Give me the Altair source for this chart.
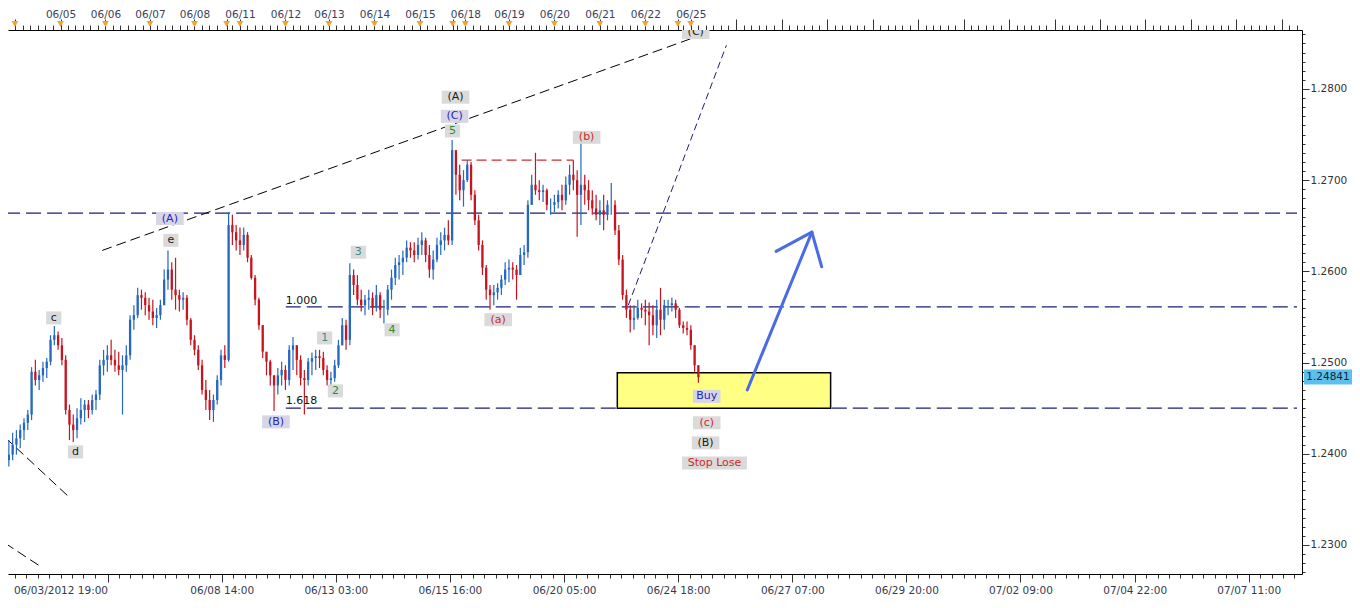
import altair as alt
import pandas as pd

# ---------------- price bars (2-hour steps, hour index from chart start) ----------------
high = [
    1.2418, 1.2415, 1.2423, 1.2426, 1.2432, 1.2439, 1.2448, 1.2495, 1.2503, 1.2492,
    1.2501, 1.2505, 1.2530, 1.2540, 1.2534, 1.2527, 1.2508, 1.2454, 1.2443, 1.2450,
    1.2461, 1.2459, 1.2459, 1.2465, 1.2470, 1.2503, 1.2514, 1.2519, 1.2525, 1.2514,
    1.2512, 1.2508, 1.2519, 1.2552, 1.2563, 1.2582, 1.2580, 1.2577, 1.2571, 1.2569,
    1.2560, 1.2569, 1.2602, 1.2623, 1.2610, 1.2615, 1.2580, 1.2577, 1.2574, 1.2549,
    1.2530, 1.2519, 1.2503, 1.2481, 1.2470, 1.2465, 1.2486, 1.2514, 1.2519, 1.2665,
    1.2662, 1.2651, 1.2648, 1.2648, 1.2643, 1.2618, 1.2596, 1.2571, 1.2541, 1.2508,
    1.2503, 1.2486, 1.2494, 1.2501, 1.2497, 1.2519, 1.2528, 1.2519, 1.2508, 1.2492,
    1.2505, 1.2511, 1.2514, 1.2514, 1.2512, 1.2497, 1.2490, 1.2503, 1.2525, 1.2549,
    1.2547, 1.2609, 1.2602, 1.2596, 1.2580, 1.2574, 1.2580, 1.2577, 1.2585, 1.2577,
    1.2569, 1.2585, 1.2602, 1.2615, 1.2618, 1.2623, 1.2634, 1.2632, 1.2632, 1.2637,
    1.2643, 1.2637, 1.2629, 1.2623, 1.2637, 1.2643, 1.2648, 1.2656, 1.2744, 1.2728,
    1.2717, 1.2711, 1.2722, 1.2720, 1.2689, 1.2662, 1.2634, 1.2607, 1.2585, 1.2585,
    1.2587, 1.2596, 1.2610, 1.2613, 1.2610, 1.2607, 1.2626, 1.2629, 1.2678, 1.2706,
    1.2730, 1.2700, 1.2695, 1.2691, 1.2680, 1.2684, 1.2689, 1.2695, 1.2704, 1.2717,
    1.2722, 1.2711, 1.2742, 1.2706, 1.2700, 1.2689, 1.2684, 1.2678, 1.2684, 1.2678,
    1.2697, 1.2678, 1.2651, 1.2618, 1.2580, 1.2563, 1.2563, 1.2569, 1.2565, 1.2569,
    1.2566, 1.2563, 1.2569, 1.2582, 1.2569, 1.2569, 1.2571, 1.2569, 1.2560, 1.2545,
    1.2545, 1.2541, 1.2519, 1.2497,
]
low = [
    1.2388, 1.2386, 1.2393, 1.2399, 1.2406, 1.2415, 1.2426, 1.2437, 1.2475, 1.2470,
    1.2479, 1.2483, 1.2497, 1.2519, 1.2514, 1.2497, 1.2443, 1.2415, 1.2413, 1.2417,
    1.2432, 1.2435, 1.2439, 1.2443, 1.2448, 1.2459, 1.2486, 1.2490, 1.2497, 1.2490,
    1.2486, 1.2443, 1.2490, 1.2503, 1.2536, 1.2549, 1.2558, 1.2552, 1.2547, 1.2541,
    1.2538, 1.2547, 1.2563, 1.2580, 1.2569, 1.2558, 1.2556, 1.2558, 1.2541, 1.2519,
    1.2508, 1.2492, 1.2465, 1.2448, 1.2437, 1.2435, 1.2454, 1.2475, 1.2494, 1.2501,
    1.2629, 1.2623, 1.2618, 1.2623, 1.2610, 1.2591, 1.2563, 1.2536, 1.2505, 1.2486,
    1.2475, 1.2447, 1.2465, 1.2475, 1.2470, 1.2475, 1.2492, 1.2486, 1.2475, 1.2443,
    1.2475, 1.2486, 1.2492, 1.2494, 1.2486, 1.2475, 1.2475, 1.2479, 1.2494, 1.2519,
    1.2514, 1.2519, 1.2574, 1.2563, 1.2556, 1.2552, 1.2558, 1.2552, 1.2556, 1.2549,
    1.2543, 1.2552, 1.2569, 1.2585, 1.2591, 1.2596, 1.2610, 1.2615, 1.2610, 1.2613,
    1.2618, 1.2610, 1.2593, 1.2591, 1.2610, 1.2618, 1.2623, 1.2629, 1.2629, 1.2684,
    1.2678, 1.2671, 1.2698, 1.2678, 1.2651, 1.2623, 1.2596, 1.2569, 1.2558, 1.2563,
    1.2569, 1.2574, 1.2585, 1.2588, 1.2591, 1.2569, 1.2596, 1.2607, 1.2615, 1.2673,
    1.2684, 1.2678, 1.2676, 1.2667, 1.2662, 1.2665, 1.2669, 1.2667, 1.2673, 1.2684,
    1.2689, 1.2638, 1.2651, 1.2673, 1.2667, 1.2662, 1.2656, 1.2651, 1.2645, 1.2656,
    1.2662, 1.2640, 1.2607, 1.2569, 1.2549, 1.2533, 1.2536, 1.2547, 1.2549, 1.2541,
    1.2519, 1.2530, 1.2527, 1.2530, 1.2536, 1.2552, 1.2556, 1.2549, 1.2538, 1.2532,
    1.2530, 1.2514, 1.2490, 1.2478,
]
close = [
    1.2393, 1.2399, 1.2410, 1.2417, 1.2426, 1.2434, 1.2443, 1.2490, 1.2481, 1.2486,
    1.2494, 1.2501, 1.2525, 1.2530, 1.2519, 1.2503, 1.2448, 1.2432, 1.2426, 1.2439,
    1.2448, 1.2454, 1.2448, 1.2459, 1.2465, 1.2497, 1.2503, 1.2508, 1.2503, 1.2497,
    1.2492, 1.2497, 1.2508, 1.2547, 1.2552, 1.2574, 1.2571, 1.2563, 1.2556, 1.2549,
    1.2552, 1.2563, 1.2591, 1.2602, 1.2580, 1.2574, 1.2569, 1.2571, 1.2547, 1.2525,
    1.2514, 1.2497, 1.2470, 1.2459, 1.2448, 1.2459, 1.2481, 1.2508, 1.2503, 1.2651,
    1.2643, 1.2634, 1.2629, 1.2640, 1.2615, 1.2593, 1.2569, 1.2541, 1.2512, 1.2501,
    1.2486, 1.2475, 1.2486, 1.2492, 1.2481, 1.2514, 1.2519, 1.2503, 1.2483, 1.2481,
    1.2501, 1.2505, 1.2507, 1.2505, 1.2492, 1.2481, 1.2483, 1.2497, 1.2519, 1.2541,
    1.2525, 1.2596, 1.2585, 1.2569, 1.2563, 1.2569, 1.2571, 1.2560, 1.2574, 1.2558,
    1.2558, 1.2580, 1.2593, 1.2607, 1.2610, 1.2615, 1.2626, 1.2623, 1.2618, 1.2629,
    1.2634, 1.2618, 1.2602, 1.2613, 1.2629, 1.2634, 1.2640, 1.2634, 1.2733, 1.2706,
    1.2689, 1.2700, 1.2717, 1.2684, 1.2656, 1.2629, 1.2604, 1.2580, 1.2574, 1.2577,
    1.2582, 1.2591, 1.2602, 1.2604, 1.2602, 1.2596, 1.2618, 1.2621, 1.2673, 1.2695,
    1.2689, 1.2687, 1.2689, 1.2673, 1.2673, 1.2676, 1.2684, 1.2678, 1.2695, 1.2706,
    1.2700, 1.2684, 1.2695, 1.2689, 1.2678, 1.2669, 1.2662, 1.2667, 1.2662, 1.2673,
    1.2673, 1.2645, 1.2613, 1.2574, 1.2558, 1.2547, 1.2549, 1.2560, 1.2558, 1.2556,
    1.2552, 1.2541, 1.2558, 1.2547, 1.2563, 1.2563, 1.2565, 1.2558, 1.2541, 1.2538,
    1.2536, 1.2519, 1.2497, 1.2484,
]
first_open = 1.2410
last_price = 1.24841

# ---------------- axis labels ----------------
top_days = [29.3, 53, 76.5, 100, 124, 148, 171, 195, 219, 243, 266, 290, 314, 338, 362]
top_day_labels = ["06/05", "06/06", "06/07", "06/08", "06/11", "06/12", "06/13", "06/14",
                  "06/15", "06/18", "06/19", "06/20", "06/21", "06/22", "06/25"]
week_open_marks = [5.2, 117.0, 236.3, 355.2]
bottom_ticks = [54.1, 114.4, 174.6, 234.8, 295.1, 355.3, 415.6, 475.8, 536.0, 596.3, 656.5]
bottom_labels = ["06/03/2012 19:00", "06/08 14:00", "06/13 03:00", "06/15 16:00", "06/20 05:00",
                 "06/24 18:00", "06/27 07:00", "06/29 20:00", "07/02 09:00", "07/04 22:00",
                 "07/07 11:00"]

# ---------------- wave annotations ----------------
ann_text = ["c", "d", "e", "(A)", "(B)", "1", "2", "3", "4", "5", "(C)", "(A)", "(a)", "(b)",
            "Buy", "(c)", "(B)", "Stop Lose", "(C)"]
ann_hour = [25.7, 37.2, 87.5, 87.0, 143.0, 168.7, 174.4, 186.5, 204.3, 236.2, 237.3, 237.8,
            260.3, 307.0, 370.4, 370.4, 369.8, 374.5, 364.6]
ann_price = [1.2549, 1.2402, 1.2634, 1.2658, 1.2435, 1.2527, 1.2469, 1.2621, 1.2536, 1.2754,
             1.2770, 1.2791, 1.2547, 1.2747, 1.2463, 1.2434, 1.2412, 1.2390, 1.2862]
ann_kind = ["black", "black", "black", "blue", "blue", "teal", "green", "teal", "green", "green",
            "blue", "black", "red", "red", "blue", "red", "black", "red", "black"]

fib_text = ["1.000", "1.618"]
fib_hour = [148.2, 148.2]
fib_price = [1.2568, 1.2458]

# ---------------- drawn lines (hour, price) ----------------
black_dash = [(51.3, 1.2623, 371.2, 1.2862), (0.0, 1.2418, 34.6, 1.2351), (0.0, 1.2302, 18.3, 1.2277)]
navy_levels = [(0.0, 1.2664, 682.0, 1.2664), (148.2, 1.2561, 682.0, 1.2561), (148.2, 1.2450, 682.0, 1.2450)]
red_level = [(241.0, 1.2722, 300.0, 1.2722)]
navy_diag = [(329.0, 1.2563, 380.8, 1.2848)]
arrow = [(391.8, 1.2470, 425.9, 1.2643), (425.9, 1.2643, 407.0, 1.2622), (425.9, 1.2643, 431.1, 1.2605)]
buy_zone = [(323.2, 1.2450, 435.8, 1.2489)]

# ---------------- build tables ----------------
n = min(len(high), len(low), len(close))
hours = [2 * i for i in range(n)]
opens = [first_open] + close[: n - 1]
dirs = ["up" if close[i] >= opens[i] else "down" for i in range(n)]
bars = pd.DataFrame({"hour": hours, "open": opens, "high": high[:n], "low": low[:n],
                     "close": close[:n], "dir": dirs})

def seg_df(segs):
    return pd.DataFrame(segs, columns=["x", "y", "x2", "y2"])

W, H = 1294, 544
X0, X1 = 4.19, 682.0
Y0, Y1 = 1.226820, 1.286469
xs = alt.Scale(domain=[X0, X1], nice=False, zero=False)
ys = alt.Scale(domain=[Y0, Y1], nice=False, zero=False)

BLUE, RED = "#2468c0", "#c8141e"
NAVY = "#1c1c78"
AXFONT = "DejaVu Sans"

def ternary(vals, labels):
    expr = "''"
    for v, l in reversed(list(zip(vals, labels))):
        expr = f"abs(datum.value - {v}) < 0.01 ? '{l}' : ({expr})"
    return expr

def in_list(vals):
    return "(" + " || ".join(f"abs(datum.value - {v}) < 0.01" for v in vals) + ")"

# bottom axis: majors + 10 subdivisions
step_b = (bottom_ticks[1] - bottom_ticks[0]) / 10
minor_bottom = []
for b in [bottom_ticks[0] - 61] + bottom_ticks:
    for k in range(1, 10):
        v = round(b + step_b * k, 2)
        if X0 <= v <= X1:
            minor_bottom.append(v)
bottom_vals = sorted(bottom_ticks + minor_bottom)
bottom_axis = alt.Axis(
    orient="bottom", values=bottom_vals, title=None, grid=False,
    labelExpr=ternary(bottom_ticks, bottom_labels),
    tickSize={"condition": {"test": in_list(bottom_ticks), "value": 8}, "value": 4},
    labelAlign={"condition": {"test": f"abs(datum.value - {bottom_ticks[0]}) < 0.01", "value": "right"},
                "value": "center"},
    labelFont=AXFONT, labelFontSize=10.5, labelColor="#333b52",
    labelPadding=3, labelOverlap=False, labelFlush=False, labelBound=False,
    domainColor="#000", tickColor="#333", tickWidth=1,
)

# top axis: day marks + 4-hour subdivisions
future_days = [386 + 24 * k for k in range(13) if 386 + 24 * k <= X1]
day_marks = top_days + future_days
top_major = day_marks + week_open_marks
minor_top = []
for d in [5.5] + day_marks:
    for k in range(1, 6):
        v = round(d + 3.93 * k, 2)
        if X0 <= v <= X1 and all(abs(v - m) > 1.8 for m in top_major):
            minor_top.append(v)
top_vals = sorted([v for v in top_major if X0 <= v <= X1] + minor_top)
top_axis = alt.Axis(
    orient="top", values=top_vals, title=None, grid=False,
    labelExpr=ternary(top_days, top_day_labels),
    tickSize={"condition": {"test": in_list(top_major), "value": 11}, "value": 5},
    labelFont=AXFONT, labelFontSize=10.5, labelColor="#3a3f5c",
    labelPadding=0, labelOverlap=False, labelFlush=False, labelBound=False,
    domainColor="#000", tickColor="#333",
)

y_vals = [round(1.227 + 0.001 * k, 4) for k in range(60)]
major_test = "abs(datum.value*100 - round(datum.value*100)) < 0.01"
right_axis = alt.Axis(
    orient="right", values=y_vals, title=None, grid=False,
    labelExpr=f"{major_test} ? format(datum.value, '.4f') : ''",
    tickSize={"condition": {"test": major_test, "value": 7}, "value": 3},
    labelFont=AXFONT, labelFontSize=10.5, labelColor="#333",
    labelPadding=1, labelOverlap=False, labelFlush=False, labelBound=False,
    domainColor="#000", tickColor="#333",
)

# ---------------- layers ----------------
color_dir = alt.Color("dir:N", scale=alt.Scale(domain=["up", "down"], range=[BLUE, RED]), legend=None)

wicks = alt.Chart(bars).mark_rule(strokeWidth=1.2, clip=True).encode(
    x=alt.X("hour:Q", scale=xs, axis=bottom_axis),
    y=alt.Y("low:Q", scale=ys, axis=right_axis),
    y2="high:Q",
    color=color_dir,
)
bodies = alt.Chart(bars).mark_bar(width=2.3, clip=True).encode(
    x=alt.X("hour:Q", scale=xs, axis=None),
    y=alt.Y("open:Q", scale=ys, axis=None),
    y2="close:Q",
    color=color_dir,
)

def seg_layer(segs, **mk):
    return alt.Chart(seg_df(segs)).mark_rule(clip=True, **mk).encode(
        x=alt.X("x:Q", scale=xs, axis=None), y=alt.Y("y:Q", scale=ys, axis=None),
        x2="x2:Q", y2="y2:Q",
    )

navy_l = seg_layer(navy_levels, color=NAVY, strokeWidth=1.3, strokeDash=[15, 6])
zone = alt.Chart(seg_df(buy_zone)).mark_rect(fill="#ffff84", stroke="#000", strokeWidth=1.5, clip=True).encode(
    x=alt.X("x:Q", scale=xs, axis=None), y=alt.Y("y:Q", scale=ys, axis=None), x2="x2:Q", y2="y2:Q",
)
black_l = seg_layer(black_dash, color="#000", strokeWidth=1, strokeDash=[10, 5])
red_l = seg_layer(red_level, color="#c83030", strokeWidth=1.2, strokeDash=[10, 5])
diag_l = seg_layer(navy_diag, color=NAVY, strokeWidth=1, strokeDash=[7, 4])
arrow_l = seg_layer(arrow, color="#4a6be6", strokeWidth=3, strokeCap="round")

ann = pd.DataFrame({"text": ann_text, "hour": ann_hour, "price": ann_price, "kind": ann_kind})
ann["shp"] = ann["text"].map(lambda t: "M{a},-6.5L{b},-6.5L{b},6.5L{a},6.5Z".format(
    a=-(6.2 * len(t) + 9) / 2, b=(6.2 * len(t) + 9) / 2))
ann["box"] = ann["kind"].map(lambda k: "#d6d6e6" if k == "blue" else "#dadada")
boxes = alt.Chart(ann).mark_point(filled=True, opacity=1, clip=True).encode(
    x=alt.X("hour:Q", scale=xs, axis=None), y=alt.Y("price:Q", scale=ys, axis=None),
    shape=alt.Shape("shp:N", scale=None), fill=alt.Fill("box:N", scale=None),
    size=alt.value(4), strokeWidth=alt.value(0),
)
kind_color = alt.Color("kind:N", legend=None, scale=alt.Scale(
    domain=["black", "blue", "teal", "green", "red"],
    range=["#1a1a1a", "#2424c8", "#3a8c8c", "#2e8b2e", "#cc2a2a"]))
texts = alt.Chart(ann).mark_text(font="DejaVu Sans", fontSize=11, baseline="middle", clip=True).encode(
    x=alt.X("hour:Q", scale=xs, axis=None), y=alt.Y("price:Q", scale=ys, axis=None),
    text="text:N", color=kind_color,
)
fib = alt.Chart(pd.DataFrame({"text": fib_text, "hour": fib_hour, "price": fib_price})).mark_text(
    font="DejaVu Sans", fontSize=11, align="left", baseline="middle", color="#111", clip=True).encode(
    x=alt.X("hour:Q", scale=xs, axis=None), y=alt.Y("price:Q", scale=ys, axis=None), text="text:N",
)

marks = pd.DataFrame({"hour": [v for v in top_days + week_open_marks if X0 <= v <= X1]})
triangles = alt.Chart(marks).mark_point(shape="triangle-down", filled=True, size=48,
                                        color="#f2a52a", opacity=1, clip=False).encode(
    x=alt.X("hour:Q", scale=xs, axis=top_axis),
    y=alt.value(-6),
)

cur = pd.DataFrame({"price": [last_price], "label": [f"{last_price:.5f}"]})
cur_box = alt.Chart(cur).mark_point(shape="M-24,-7.5L24,-7.5L24,7.5L-24,7.5Z", filled=True, size=4,
                                    color="#5cc0ec", opacity=1, clip=False).encode(
    x=alt.value(W + 26), y=alt.Y("price:Q", scale=ys, axis=None))
cur_txt = alt.Chart(cur).mark_text(font="DejaVu Sans", fontSize=10.5, color="#0c2440",
                                   baseline="middle", clip=False).encode(
    x=alt.value(W + 26), y=alt.Y("price:Q", scale=ys, axis=None), text="label:N")

chart = alt.layer(
    navy_l, zone, black_l, red_l, diag_l, wicks, bodies, arrow_l, boxes, texts, fib,
    triangles, cur_box, cur_txt,
).resolve_axis(x="independent", y="independent").resolve_scale(color="independent").properties(
    width=W, height=H,
    autosize=alt.AutoSizeParams(type="none"),
    padding={"left": 0, "top": 22, "right": 50, "bottom": 22},
    background="white",
).configure_view(stroke=None)

chart.save("out.html", embed_options={"renderer": "svg", "actions": False})
